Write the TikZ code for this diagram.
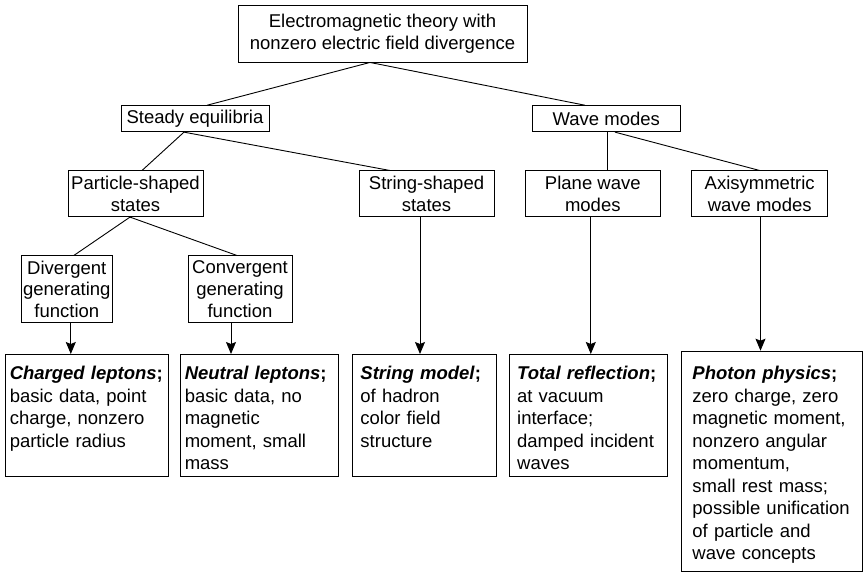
\documentclass[tikz,border=0pt]{standalone}
\usepackage{fontspec}
\setmainfont{Liberation Sans}
\usetikzlibrary{arrows.meta}
\newcommand{\fsA}{\fontsize{18.5}{21.7}\selectfont}
\newcommand{\fsB}{\fontsize{18.5}{22.5}\selectfont}
\newcommand{\hd}[1]{\textbf{\textit{#1};}}
\tikzset{
  box/.style={draw, line width=0.9pt, align=center, inner sep=0pt, font=\fsA},
  leaf/.style={draw, line width=0.9pt, anchor=north west, align=left, inner ysep=0pt, font=\fsB},
  conn/.style={line width=0.9pt},
  arr/.style={line width=0.9pt, -{Stealth[length=12pt,width=10pt,inset=2pt]}}
}
\begin{document}
\begin{tikzpicture}[x=1pt,y=-1pt]
\useasboundingbox (0,0) rectangle (865,572);
% upper tree
\node[box, minimum width=289pt, minimum height=57pt] (top) at (382.5,33.5)
  {Electromagnetic theory with\\nonzero electric field divergence};
\node[box, minimum width=148pt, minimum height=26pt] (steady) at (195,118.7) {Steady equilibria};
\node[box, minimum width=148.7pt, minimum height=26pt] (wave) at (606.3,118.7) {Wave modes};
\node[box, minimum width=135pt, minimum height=45.7pt] (particle) at (135.5,193.8) {Particle-shaped\\states};
\node[box, minimum width=135pt, minimum height=45.7pt] (string) at (426.5,193.8) {String-shaped\\states};
\node[box, minimum width=134.3pt, minimum height=45.7pt] (plane) at (592.8,193.8) {Plane wave\\modes};
\node[box, minimum width=136pt, minimum height=45.7pt] (axi) at (759.7,193.8) {Axisymmetric\\wave modes};
\node[box, minimum width=90.3pt, minimum height=66.7pt] (div) at (66.8,289.3) {Divergent\\generating\\function};
\node[box, minimum width=104pt, minimum height=66.7pt] (conv) at (240,289.3) {Convergent\\generating\\function};
% leaves
\node[leaf, inner xsep=4.3pt, text width=154.1pt, text height=25.5pt, text depth=96.5pt] (charged) at (5,354)
  {\hd{Charged leptons}\\basic data, point\\charge, nonzero\\particle radius};
\node[leaf, inner xsep=4.3pt, text width=149.4pt, text height=25.5pt, text depth=96.5pt] (neutral) at (180,354)
  {\hd{Neutral leptons}\\basic data, no\\magnetic\\moment, small\\mass};
\node[leaf, inner xsep=8.3pt, text width=127.4pt, text height=25.5pt, text depth=96.5pt] (smodel) at (351.7,354)
  {\hd{String model}\\of hadron\\color field\\structure};
\node[leaf, inner xsep=7.7pt, text width=142.3pt, text height=25.5pt, text depth=96.5pt] (total) at (509,354)
  {\hd{Total reflection}\\at vacuum\\interface;\\damped incident\\waves};
\node[leaf, inner xsep=11pt, text width=158.7pt, text height=28.8pt, text depth=191.2pt] (photon) at (681,350.7)
  {\hd{Photon physics}\\zero charge, zero\\magnetic moment,\\nonzero angular\\momentum,\\small rest mass;\\possible unification\\of particle and\\wave concepts};
% connectors
\draw[conn] ([xshift=-12.5pt]top.south) -- ([xshift=12pt]steady.north);
\draw[conn] ([xshift=-12.5pt]top.south) -- ([xshift=-21.3pt]wave.north);
\draw[conn] ([xshift=-11pt]steady.south) -- ([xshift=6.5pt]particle.north);
\draw[conn] ([xshift=-11pt]steady.south) -- ([xshift=-36.5pt]string.north);
\draw[conn] ([xshift=1.4pt]wave.south) -- ([xshift=1.4pt]wave.south |- plane.north);
\draw[conn] ([xshift=8.7pt]wave.south) -- (axi.north);
\draw[conn] ([xshift=-5.5pt]particle.south) -- ([xshift=7pt]div.north);
\draw[conn] ([xshift=-5.5pt]particle.south) -- ([xshift=-3pt]conv.north);
\draw[arr] ([xshift=4pt]div.south) -- ([xshift=4pt]div.south |- charged.north);
\draw[arr] ([xshift=-9pt]conv.south) -- ([xshift=-9pt]conv.south |- neutral.north);
\draw[arr] ([xshift=-6.5pt]string.south) -- ([xshift=-6.5pt]string.south |- smodel.north);
\draw[arr] ([xshift=-2pt]plane.south) -- ([xshift=-2pt]plane.south |- total.north);
\draw[arr] ([xshift=0.8pt]axi.south) -- ([xshift=0.8pt]axi.south |- photon.north);
\end{tikzpicture}
\end{document}
